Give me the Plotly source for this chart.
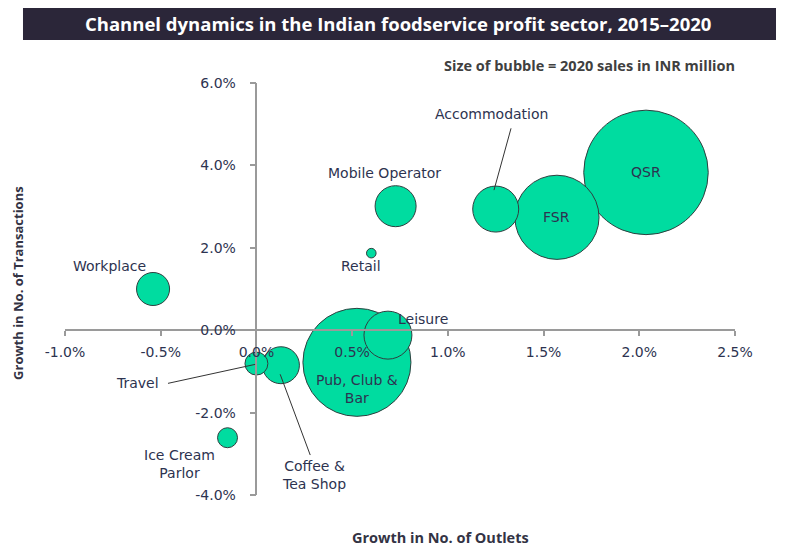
import plotly.graph_objects as go

# ---- data ----
channels = ["QSR", "Pub, Club & Bar", "FSR", "Leisure", "Accommodation", "Mobile Operator",
            "Coffee & Tea Shop", "Workplace", "Travel", "Ice Cream Parlor", "Retail"]
outlet_growth = [2.035, 0.525, 1.57, 0.687, 1.25, 0.727, 0.128, -0.54, 0.0, -0.151, 0.60]
transaction_growth = [3.83, -0.78, 2.74, -0.12, 2.94, 3.01, -0.85, 1.0, -0.81, -2.61, 1.87]
sales_2020 = [186000, 140000, 85000, 27600, 25400, 20200, 16400, 13100, 6300, 4800, 1100]

x_ticks = [-1.0, -0.5, 0.0, 0.5, 1.0, 1.5, 2.0, 2.5]
x_tick_text = ["-1.0%", "-0.5%", "0.0%", "0.5%", "1.0%", "1.5%", "2.0%", "2.5%"]
y_ticks = [-4.0, -2.0, 0.0, 2.0, 4.0, 6.0]
y_tick_text = ["-4.0%", "-2.0%", "0.0%", "2.0%", "4.0%", "6.0%"]

# label text and positions (data coords)
label_text = ["QSR", "Pub, Club &<br>Bar", "FSR", "Leisure", "Accommodation", "Mobile Operator",
              "Coffee &<br>Tea Shop", "Workplace", "Travel", "Ice Cream<br>Parlor", "Retail"]
label_x = [2.035, 0.525, 1.57, 0.87, 1.23, 0.671, 0.30, -0.765, -0.621, -0.40, 0.544]
label_y = [3.83, -1.42, 2.74, 0.27, 5.24, 3.81, -3.52, 1.55, -1.29, -3.25, 1.55]

# leader lines: (x0, y0, x1, y1) in data coords
leaders = [(1.33, 4.90, 1.241, 3.40),      # Accommodation
           (-0.462, -1.29, -0.007, -0.83),  # Travel
           (0.281, -3.03, 0.124, -1.07)]    # Coffee & Tea Shop

FILL = "#00DCA0"
TXT = "#2d3350"
max_d = 124.5
sizeref = 2.0 * max(sales_2020) / max_d ** 2

fig = go.Figure()
fig.add_trace(go.Scatter(
    x=outlet_growth, y=transaction_growth, mode="markers",
    marker=dict(size=sales_2020, sizemode="area", sizeref=sizeref, color=FILL,
                opacity=1, line=dict(color="#2f3f3f", width=1)),
    hoverinfo="text", text=channels, showlegend=False, cliponaxis=False))

annotations = []
for t, lx, ly in zip(label_text, label_x, label_y):
    annotations.append(dict(x=lx, y=ly, xref="x", yref="y", text=t, showarrow=False,
                            xanchor="center", yanchor="middle",
                            font=dict(family="DejaVu Sans", size=14, color=TXT),
                            align="center"))

# title, subtitle, axis titles
annotations.append(dict(x=0.497, y=1.1456, xref="paper", yref="paper", xanchor="center", yanchor="middle",
                        text="<b>Channel dynamics in the Indian foodservice profit sector, 2015\u20132020</b>",
                        showarrow=False, font=dict(family="Open Sans", size=18.5, color="white")))
annotations.append(dict(x=1.003, y=1.0413, xref="paper", yref="paper", xanchor="right", yanchor="middle",
                        text="<b>Size of bubble = 2020 sales in INR million</b>",
                        showarrow=False, font=dict(family="Open Sans", size=14.5, color="#404040")))
annotations.append(dict(x=0.561, y=-0.104, xref="paper", yref="paper", xanchor="center", yanchor="middle",
                        text="<b>Growth in No. of Outlets</b>",
                        showarrow=False, font=dict(family="Open Sans", size=14.5, color="#333344")))
annotations.append(dict(x=-0.070, y=0.515, xref="paper", yref="paper", xanchor="center", yanchor="middle",
                        textangle=-90, text="<b>Growth in No. of Transactions</b>",
                        showarrow=False, font=dict(family="Open Sans", size=13, color="#333344")))

shapes = [dict(type="rect", xref="paper", yref="paper", x0=-0.0627, x1=1.0612, y0=1.1044, y1=1.1845,
               fillcolor="#2b2639", line=dict(width=0), layer="below")]
for x0, y0, x1, y1 in leaders:
    shapes.append(dict(type="line", xref="x", yref="y", x0=x0, y0=y0, x1=x1, y1=y1,
                       line=dict(color="#333333", width=1)))

fig.update_layout(
    template="none",
    width=779, height=538,
    margin=dict(l=57, r=52, t=75, b=51, autoexpand=False),
    paper_bgcolor="white", plot_bgcolor="white",
    annotations=annotations, shapes=shapes,
    xaxis=dict(range=[-1.0, 2.5], tickvals=x_ticks, ticktext=x_tick_text, automargin=False,
               showgrid=False, zeroline=False, showline=True, linecolor="#9a9a9a", linewidth=1.5,
               ticks="outside", ticklen=5, tickcolor="#9a9a9a", tickwidth=1.5,
               anchor="free", position=0.4, ticklabelstandoff=4,
               tickfont=dict(family="DejaVu Sans", size=14, color=TXT)),
    yaxis=dict(range=[-4.0, 6.0], tickvals=y_ticks, ticktext=y_tick_text, automargin=False,
               showgrid=False, zeroline=False, showline=True, linecolor="#9a9a9a", linewidth=1.5,
               ticks="outside", ticklen=6, tickcolor="#9a9a9a", tickwidth=1.5,
               anchor="free", position=1 / 3.5, ticklabelstandoff=11,
               tickfont=dict(family="DejaVu Sans", size=14, color=TXT)),
)

fig.write_html("out.html")
